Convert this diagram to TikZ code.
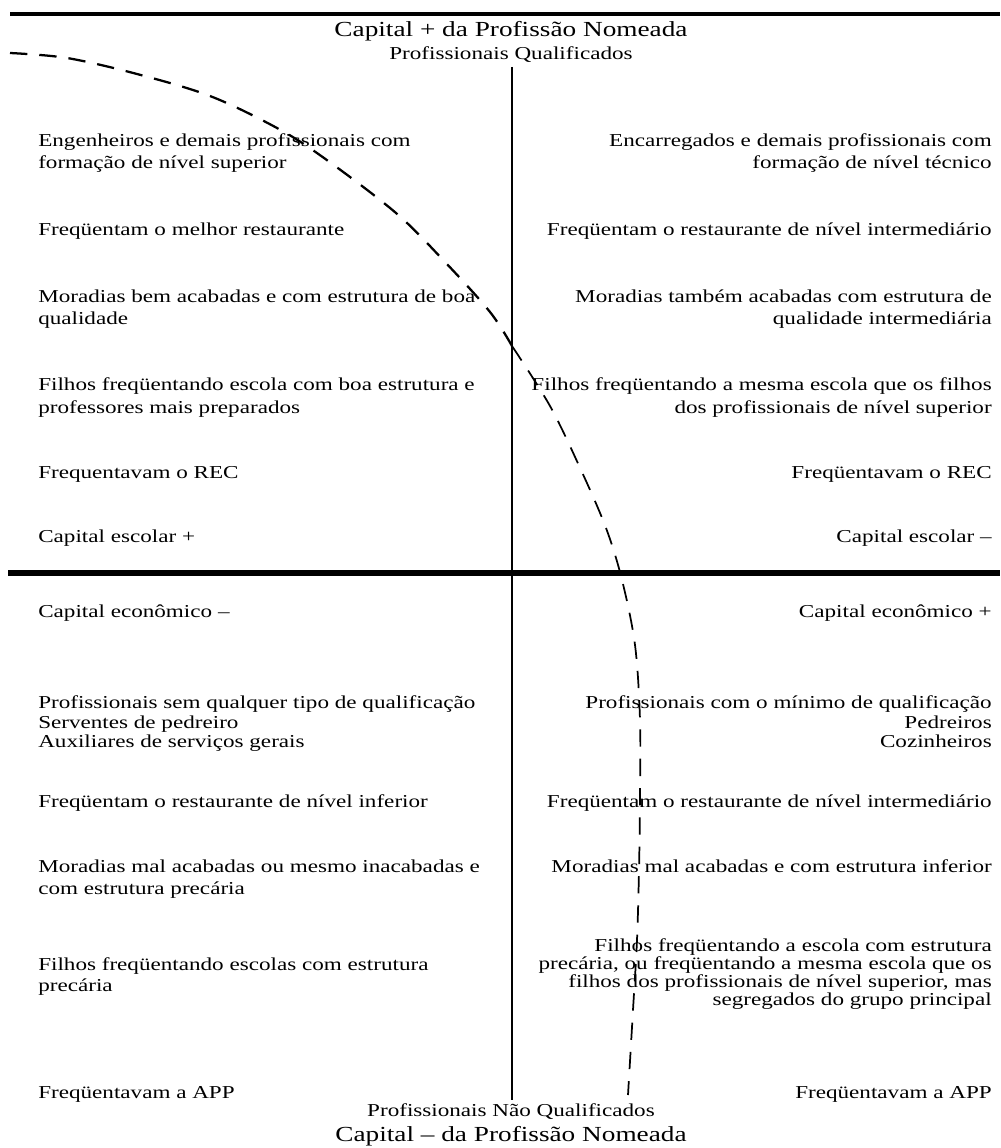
\documentclass[tikz,border=0pt]{standalone}
\usepackage{fontspec}
\setmainfont{Liberation Serif}[FakeStretch=1.27]
\begin{document}
\begin{tikzpicture}[x=0.75pt,y=-0.75pt,
  txt/.style={inner sep=0pt, font=\fontsize{13.65}{16}\selectfont},
  lt/.style={txt, anchor=base west},
  rt/.style={txt, anchor=base east},
  ctr/.style={txt, anchor=base},
  ttl/.style={inner sep=0pt, anchor=base, font=\fontsize{16.1}{19}\selectfont},
  heavyrule/.style={line width=#1},
  axis/.style={line width=0.9pt},
  border/.style={line width=#1, dash pattern=on 13pt off 9pt, line cap=butt}]
\useasboundingbox (0,0) rectangle (1000,1148);

% horizontal rules and the central axis
\coordinate (topL) at (10,14);
\coordinate (topR) at (1000,14);
\coordinate (midL) at (8,573);
\coordinate (midR) at (1000,573);
\coordinate (axT) at (512,67);
\coordinate (axB) at (512,1100);
\draw[heavyrule=3.2pt] (topL) -- (topR);
\draw[heavyrule=5pt] (midL) -- (midR);
\draw[axis] (axT) -- (axB);

% headings
\node[ttl] (capTop) at (511,37) {Capital + da Profissão Nomeada};
\node[ctr] (qualTop) at (511,60) {Profissionais Qualificados};
\node[ctr] (qualBot) at (511,1116) {Profissionais Não Qualificados};
\node[ttl] (capBot) at (511,1141) {Capital – da Profissão Nomeada};

% upper left quadrant
\node[lt] (ul1a) at (38,147) {Engenheiros e demais profissionais com};
\node[lt] (ul1b) at (38,169) {formação de nível superior};
\node[lt] (ul2)  at (38,236) {Freqüentam o melhor restaurante};
\node[lt] (ul3a) at (38,302) {Moradias bem acabadas e com estrutura de boa};
\node[lt] (ul3b) at (38,324) {qualidade};
\node[lt] (ul4a) at (38,390) {Filhos freqüentando escola com boa estrutura e};
\node[lt] (ul4b) at (38,413) {professores mais preparados};
\node[lt] (ul5)  at (38,478) {Frequentavam o REC};
\node[lt] (ul6)  at (38,542) {Capital escolar +};

% upper right quadrant
\node[rt] (ur1a) at (992,147) {Encarregados e demais profissionais com};
\node[rt] (ur1b) at (992,169) {formação de nível técnico};
\node[rt] (ur2)  at (992,236) {Freqüentam o restaurante de nível intermediário};
\node[rt] (ur3a) at (992,302) {Moradias também acabadas com estrutura de};
\node[rt] (ur3b) at (992,324) {qualidade intermediária};
\node[rt] (ur4a) at (992,390) {Filhos freqüentando a mesma escola que os filhos};
\node[rt] (ur4b) at (992,413) {dos profissionais de nível superior};
\node[rt] (ur5)  at (992,478) {Freqüentavam o REC};
\node[rt] (ur6)  at (992,542) {Capital escolar –};

% lower left quadrant
\node[lt] (ll1)  at (38,617) {Capital econômico –};
\node[lt] (ll2a) at (38,708) {Profissionais sem qualquer tipo de qualificação};
\node[lt] (ll2b) at (38,728) {Serventes de pedreiro};
\node[lt] (ll2c) at (38,747) {Auxiliares de serviços gerais};
\node[lt] (ll3)  at (38,807) {Freqüentam o restaurante de nível inferior};
\node[lt] (ll4a) at (38,872) {Moradias mal acabadas ou mesmo inacabadas e};
\node[lt] (ll4b) at (38,894) {com estrutura precária};
\node[lt] (ll5a) at (38,970) {Filhos freqüentando escolas com estrutura};
\node[lt] (ll5b) at (38,991) {precária};
\node[lt] (ll6)  at (38,1098) {Freqüentavam a APP};

% lower right quadrant
\node[rt] (lr1)  at (992,617) {Capital econômico +};
\node[rt] (lr2a) at (992,708) {Profissionais com o mínimo de qualificação};
\node[rt] (lr2b) at (992,728) {Pedreiros};
\node[rt] (lr2c) at (992,747) {Cozinheiros};
\node[rt] (lr3)  at (992,807) {Freqüentam o restaurante de nível intermediário};
\node[rt] (lr4)  at (992,872) {Moradias mal acabadas e com estrutura inferior};
\node[rt] (lr5a) at (992,951) {Filhos freqüentando a escola com estrutura};
\node[rt] (lr5b) at (992,969) {precária, ou freqüentando a mesma escola que os};
\node[rt] (lr5c) at (992,987) {filhos dos profissionais de nível superior, mas};
\node[rt] (lr5d) at (992,1005) {segregados do grupo principal};
\node[rt] (lr6)  at (992,1098) {Freqüentavam a APP};

% dashed boundary between the groups: heavier on the upper arc
\draw[border=1.7pt] plot[smooth, tension=0.55] coordinates {
  (10,53) (67,58) (137,74) (210,96) (277,128) (324,158) (396,213)
  (445,262) (490,312) (512,346)};
\draw[border=1.3pt] plot[smooth, tension=0.55] coordinates {
  (512,346) (550,406) (581,470) (606,528)
  (622,580) (635,645) (640,720) (640,800) (639,870) (637,940)
  (633,1010) (628,1095)};
\end{tikzpicture}
\end{document}
